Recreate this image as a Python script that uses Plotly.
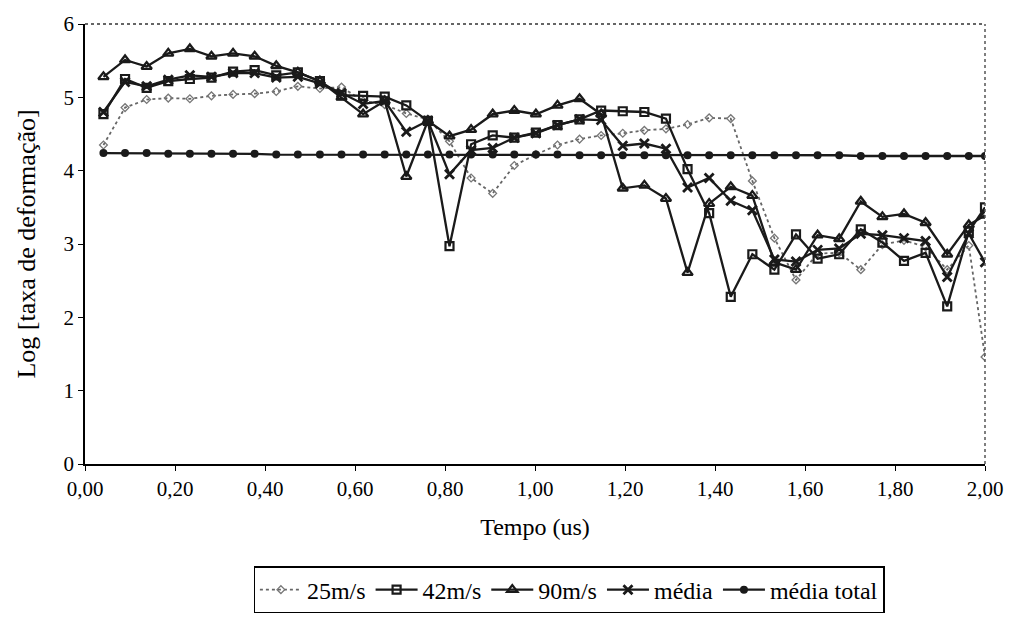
import plotly.graph_objects as go

# Time axis (us)
tempo = [0.041, 0.089, 0.137, 0.185, 0.233, 0.281, 0.329, 0.377, 0.425, 0.473,
         0.522, 0.570, 0.618, 0.666, 0.714, 0.762, 0.810, 0.858, 0.906, 0.954,
         1.002, 1.050, 1.099, 1.147, 1.195, 1.243, 1.291, 1.339, 1.387, 1.435,
         1.483, 1.532, 1.580, 1.628, 1.676, 1.724, 1.772, 1.820, 1.868, 1.916,
         1.964, 2.000]

v25 = [4.35, 4.86, 4.97, 4.99, 4.98, 5.02, 5.04, 5.05, 5.08, 5.15,
       5.12, 5.14, 4.95, 4.90, 4.78, 4.70, 4.40, 3.90, 3.69, 4.07,
       4.22, 4.35, 4.43, 4.48, 4.51, 4.55, 4.57, 4.63, 4.72, 4.71,
       3.86, 3.08, 2.51, 2.87, 2.88, 2.65, 2.99, 3.05, 2.96, 2.65,
       2.98, 1.46]

v42 = [4.77, 5.25, 5.13, 5.22, 5.25, 5.27, 5.35, 5.37, 5.30, 5.34,
       5.22, 5.03, 5.02, 5.01, 4.89, 4.68, 2.97, 4.36, 4.48, 4.45,
       4.52, 4.62, 4.70, 4.82, 4.81, 4.80, 4.71, 4.02, 3.42, 2.28,
       2.86, 2.65, 3.13, 2.80, 2.86, 3.20, 3.02, 2.77, 2.88, 2.15,
       3.17, 3.50]

v90 = [5.28, 5.51, 5.42, 5.60, 5.66, 5.56, 5.60, 5.56, 5.43, 5.34,
       5.22, 5.00, 4.77, 4.95, 3.92, 4.68, 4.47, 4.56, 4.77, 4.82,
       4.77, 4.89, 4.98, 4.77, 3.76, 3.80, 3.62, 2.61, 3.55, 3.78,
       3.66, 2.75, 2.65, 3.12, 3.07, 3.58, 3.37, 3.41, 3.29, 2.86,
       3.26, 3.39]

media = [4.80, 5.21, 5.15, 5.24, 5.30, 5.28, 5.33, 5.33, 5.27, 5.28,
         5.19, 5.06, 4.91, 4.95, 4.53, 4.68, 3.95, 4.28, 4.31, 4.45,
         4.51, 4.62, 4.70, 4.69, 4.34, 4.37, 4.30, 3.77, 3.90, 3.59,
         3.46, 2.79, 2.76, 2.92, 2.94, 3.14, 3.12, 3.08, 3.04, 2.55,
         3.14, 2.75]

media_total = [4.24, 4.24, 4.24, 4.23, 4.23, 4.23, 4.23, 4.23, 4.22, 4.22,
               4.22, 4.22, 4.22, 4.22, 4.22, 4.22, 4.22, 4.22, 4.22, 4.22,
               4.22, 4.22, 4.21, 4.21, 4.21, 4.21, 4.21, 4.21, 4.21, 4.21,
               4.21, 4.21, 4.21, 4.21, 4.21, 4.20, 4.20, 4.20, 4.20, 4.20,
               4.20, 4.20]

x_ticks = [0.0, 0.2, 0.4, 0.6, 0.8, 1.0, 1.2, 1.4, 1.6, 1.8, 2.0]
y_ticks = [0, 1, 2, 3, 4, 5, 6]

FONT = "Liberation Serif, Times New Roman, serif"

fig = go.Figure()
fig.add_trace(go.Scatter(
    x=tempo, y=v25, name="25m/s", mode="lines+markers",
    line=dict(color="#666666", width=1.8, dash="dot"),
    marker=dict(symbol="diamond-open", size=6, color="#777777", line=dict(width=1.3))))
fig.add_trace(go.Scatter(
    x=tempo, y=v42, name="42m/s", mode="lines+markers",
    line=dict(color="#1a1a1a", width=2.3),
    marker=dict(symbol="square-open", size=8, color="#1a1a1a", line=dict(width=2.2))))
fig.add_trace(go.Scatter(
    x=tempo, y=v90, name="90m/s", mode="lines+markers",
    line=dict(color="#1a1a1a", width=2.3),
    marker=dict(symbol="triangle-up-open", size=9, color="#1a1a1a", line=dict(width=2.3))))
fig.add_trace(go.Scatter(
    x=tempo, y=media, name="média", mode="lines+markers",
    line=dict(color="#1a1a1a", width=2.3),
    marker=dict(symbol="x-thin-open", size=9, color="#1a1a1a", line=dict(width=2.8))))
fig.add_trace(go.Scatter(
    x=tempo, y=media_total, name="média total", mode="lines+markers",
    line=dict(color="#1a1a1a", width=2.3),
    marker=dict(symbol="circle", size=8, color="#1a1a1a")))

# dotted top and right borders of plot area
fig.add_shape(type="line", xref="paper", yref="paper", x0=0, x1=1, y0=1, y1=1,
              line=dict(color="#333333", width=1.5, dash="dot"))
fig.add_shape(type="line", xref="paper", yref="paper", x0=1, x1=1, y0=0, y1=1,
              line=dict(color="#555555", width=1.5, dash="dot"))

fig.update_layout(
    width=1015, height=640,
    margin=dict(l=85, r=28, t=24, b=176),
    paper_bgcolor="white", plot_bgcolor="white",
    separators=",.",
    font=dict(family=FONT, size=21, color="black"),
    showlegend=True,
    legend=dict(orientation="h", x=0.538, y=-0.286, xanchor="center", yanchor="middle",
                bordercolor="black", borderwidth=1.2,
                font=dict(family=FONT, size=24, color="black"),
                itemwidth=42, tracegroupgap=0),
    xaxis=dict(range=[0, 2], tickvals=x_ticks, tickformat=".2f",
               showline=True, linecolor="black", linewidth=1.5,
               ticks="outside", ticklen=5, tickcolor="black",
               showgrid=False, zeroline=False,
               tickfont=dict(family=FONT, size=21, color="black"),
               title=dict(text="Tempo (us)", font=dict(family=FONT, size=24), standoff=18)),
    yaxis=dict(range=[0, 6], tickvals=y_ticks,
               showline=True, linecolor="black", linewidth=1.5,
               ticks="outside", ticklen=5, tickcolor="black",
               showgrid=False, zeroline=False,
               tickfont=dict(family=FONT, size=21, color="black"),
               title=dict(text="Log [taxa de deformação]", font=dict(family=FONT, size=26), standoff=20)),
)

fig.write_html("out.html")
